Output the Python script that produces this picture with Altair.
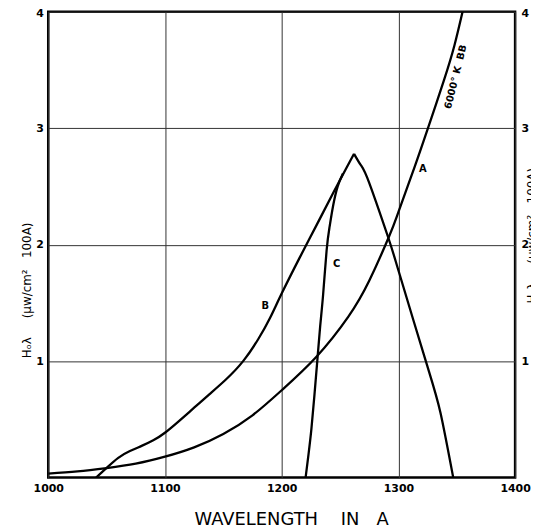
import altair as alt
import pandas as pd

# Curve A: 6000 K black body
a_wl = [1000, 1025, 1050, 1075, 1100, 1125, 1150, 1175, 1200, 1230, 1257, 1275, 1292, 1300, 1314, 1325, 1339, 1348, 1355]
a_val = [0.035, 0.053, 0.082, 0.12, 0.18, 0.26, 0.375, 0.535, 0.75, 1.04, 1.38, 1.69, 2.07, 2.28, 2.67, 2.99, 3.41, 3.71, 4.0]

# Curve B (rising branch up to the peak, then falling branch)
b_rise_wl = [1041, 1050, 1060, 1070, 1080, 1090, 1100, 1112, 1125, 1138, 1152, 1167, 1180, 1190, 1200, 1215, 1230, 1245, 1255, 1262]
b_rise_val = [0, 0.083, 0.17, 0.228, 0.272, 0.32, 0.385, 0.485, 0.6, 0.715, 0.84, 1.0, 1.19, 1.37, 1.58, 1.88, 2.17, 2.46, 2.65, 2.78]
b_fall_wl = [1262, 1268, 1275, 1291, 1300, 1323.5, 1336, 1347]
b_fall_val = [2.78, 2.68, 2.53, 2.07, 1.78, 1.0, 0.56, 0]

# Curve C
c_wl = [1220.5, 1223, 1225.5, 1228, 1230.5, 1233, 1235.5, 1238.5, 1241, 1244, 1248, 1252.5]
c_val = [0, 0.2, 0.42, 0.7, 1.0, 1.3, 1.57, 1.95, 2.15, 2.33, 2.5, 2.61]

# Curve labels
label_text = ["A", "B", "C"]
label_wl = [1321, 1186, 1247]
label_val = [2.65, 1.47, 1.83]

bb_text = ["6000°\u00a0K\u00a0\u00a0BB"]
bb_wl = [1349.2]
bb_val = [3.44]

x_ticks = [1000, 1100, 1200, 1300, 1400]
y_ticks = [1, 2, 3, 4]

NB = "\u00a0"
x_title = "WAVELENGTH" + NB * 4 + "IN" + NB * 3 + "A"
y_title = "Hₒλ" + NB * 5 + "(μw/cm²" + NB * 3 + "100A)"

rows = []
for name, xs, ys in (("A", a_wl, a_val), ("B1", b_rise_wl, b_rise_val),
                     ("B2", b_fall_wl, b_fall_val), ("C", c_wl, c_val)):
    for x, y in zip(xs, ys):
        rows.append({"curve": name, "wl": x, "val": y})
curves = pd.DataFrame(rows)
labels = pd.DataFrame({"t": label_text, "wl": label_wl, "val": label_val})
bb = pd.DataFrame({"t": bb_text, "wl": bb_wl, "val": bb_val})

FONT = "DejaVu Sans"

xscale = alt.Scale(domain=[1000, 1400], nice=False, zero=False)
yscale = alt.Scale(domain=[0, 4], nice=False)

top_shift = {"condition": {"test": "datum.value === 4", "value": 2}, "value": 0}

xaxis = alt.Axis(
    values=x_ticks, format="d", grid=True, gridColor="#333333", gridWidth=1, domain=False, ticks=False,
    labelFont=FONT, labelFontSize=11, labelFontWeight="bold", labelPadding=5, labelColor="black",
    title=x_title, titleFont=FONT, titleFontSize=18, titleFontWeight="normal",
    titleColor="black", titleX=244.5, titleY=47, titleBaseline="alphabetic", titleAlign="center",
    labelFlush=False,
)
yaxis_left = alt.Axis(
    values=y_ticks, format="d", grid=True, gridColor="#333333", gridWidth=1, domain=False, ticks=False,
    labelFont=FONT, labelFontSize=11, labelFontWeight="bold", labelPadding=5, labelColor="black",
    labelOffset=top_shift,
    title=y_title, titleFont=FONT, titleFontSize=12, titleFontWeight="normal",
    titleColor="black", titleX=-21.5, titleY=280, titleAngle=270, titleBaseline="middle",
    titleAlign="center", labelFlush=False,
)
yaxis_right = alt.Axis(
    orient="right", values=y_ticks, format="d", grid=False, domain=False, ticks=False,
    labelFont=FONT, labelFontSize=11, labelFontWeight="bold", labelPadding=6, labelColor="black",
    labelOffset=top_shift, labelFlush=False,
    title=y_title, titleFont=FONT, titleFontSize=12, titleFontWeight="normal",
    titleColor="black", titleX=17, titleY=225, titleAngle=270, titleBaseline="middle",
    titleAlign="center",
)

lines = alt.Chart(curves).mark_line(color="black", strokeWidth=2.3, interpolate="natural", clip=True).encode(
    x=alt.X("wl:Q", scale=xscale, axis=xaxis),
    y=alt.Y("val:Q", scale=yscale, axis=yaxis_left),
    detail="curve:N",
)

right = alt.Chart(curves).mark_line(opacity=0).encode(
    x=alt.X("wl:Q", scale=xscale, axis=xaxis),
    y=alt.Y("val:Q", scale=yscale, axis=yaxis_right),
    detail="curve:N",
)

lab = alt.Chart(labels).mark_text(font=FONT, fontSize=10, fontWeight="bold", color="black").encode(
    x=alt.X("wl:Q", scale=xscale, axis=xaxis),
    y=alt.Y("val:Q", scale=yscale, axis=None),
    text="t:N",
)

bbl = alt.Chart(bb).mark_text(font=FONT, fontSize=10, fontWeight="bold", color="black", angle=284).encode(
    x=alt.X("wl:Q", scale=xscale, axis=xaxis),
    y=alt.Y("val:Q", scale=yscale, axis=None),
    text="t:N",
)

chart = (
    alt.layer(lines, right, lab, bbl)
    .resolve_axis(y="independent")
    .properties(
        width=470, height=469,
        autosize=alt.AutoSizeParams(type="none"),
        padding={"left": 40.5, "top": 2, "right": 16, "bottom": 50},
        background="white",
    )
    .configure_view(stroke="black", strokeWidth=2.5)
)

chart.save("out.html", embed_options={"renderer": "svg", "actions": False})
